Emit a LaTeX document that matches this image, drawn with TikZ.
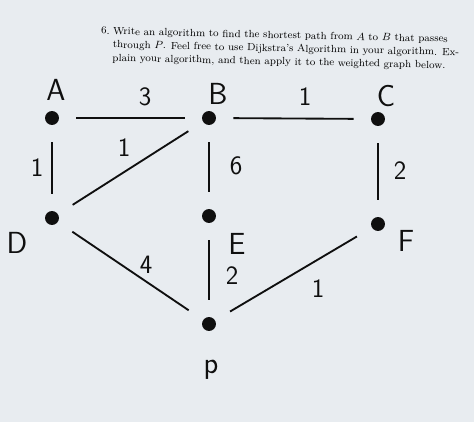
\documentclass[tikz,border=0pt]{standalone}
\usepackage{xcolor}
\definecolor{paper}{RGB}{232,236,240}
\definecolor{ink}{RGB}{15,15,15}
\tikzset{
  dot/.style={circle, fill=ink, inner sep=0pt, minimum size=0.37cm},
  edge/.style={draw=ink, line width=1.4pt, shorten >=13pt, shorten <=13pt},
  hand/.style={text=ink, font=\fontsize{23}{23}\selectfont\sffamily},
  weight/.style={text=ink, font=\fontsize{20}{20}\selectfont\sffamily}
}
\begin{document}
\begin{tikzpicture}[x=0.0265cm, y=-0.0265cm]

        %background
        \fill[paper] (0,0) rectangle (474,422);
        \useasboundingbox (0,0) rectangle (474,422);

        %question text
        \node[anchor=north east, inner sep=0pt, rotate=-1.3, font=\fontsize{7.8}{10}\selectfont] (num) at (110,27) {6.};
        \node[anchor=north west, inner sep=0pt, rotate=-1.3, align=left,
              font=\fontsize{7.8}{10}\selectfont] (question) at (113,27)
              {Write an algorithm to find the shortest path from $A$ to $B$ that passes\\
               through $P$. Feel free to use Dijkstra's Algorithm in your algorithm. Ex-\\
               plain your algorithm, and then apply it to the weighted graph below.};

        %vertices
        \node[dot] (A) at (52,118) {};
        \node[dot] (B) at (209,118) {};
        \node[dot] (C) at (378,119) {};
        \node[dot] (D) at (52,218) {};
        \node[dot] (E) at (209,216) {};
        \node[dot] (F) at (378,224) {};
        \node[dot] (P) at (209,324) {};

        %vertex names
        \node[hand] (nameA) at (56,90) {A};
        \node[hand] (nameB) at (218,94) {B};
        \node[hand] (nameC) at (386,96) {C};
        \node[hand] (nameD) at (17,243) {D};
        \node[hand] (nameE) at (237,244) {E};
        \node[hand] (nameF) at (406,241) {F};
        \node[hand] (nameP) at (211,370) {p};

        %edges
        \draw[edge] (A) -- (B);
        \draw[edge] (B) -- (C);
        \draw[edge] (A) -- (D);
        \draw[edge] (D) -- (B);
        \draw[edge] (B) -- (E);
        \draw[edge] (C) -- (F);
        \draw[edge] (D) -- (P);
        \draw[edge] (E) -- (P);
        \draw[edge] (F) -- (P);

        %weights
        \node[weight] (wAB) at (145,97) {3};
        \node[weight] (wBC) at (305,97) {1};
        \node[weight] (wAD) at (37,168) {1};
        \node[weight] (wDB) at (124,148) {1};
        \node[weight] (wBE) at (236,166) {6};
        \node[weight] (wCF) at (400,171) {2};
        \node[weight] (wDP) at (146,265) {4};
        \node[weight] (wEP) at (232,276) {2};
        \node[weight] (wFP) at (318,289) {1};

\end{tikzpicture}
\end{document}
